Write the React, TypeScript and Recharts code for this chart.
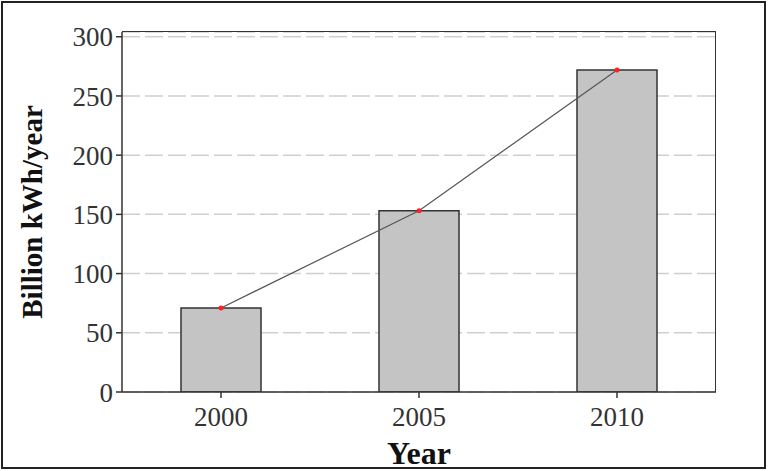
import { ComposedChart, Bar, Line, XAxis, YAxis, CartesianGrid } from "recharts";

// Values
const years = ["2000", "2005", "2010"];
const generation = [71, 153, 272];
const yTicks = [0, 50, 100, 150, 200, 250, 300];

const data = years.map((year, i) => ({ year, value: generation[i] }));

const font = "'Liberation Serif', 'Times New Roman', serif";
const axisColor = "#333";

export default function App() {
  return (
    <div style={{ position: "fixed", left: 0, top: 0, width: 768, height: 471, background: "#fff", overflow: "hidden" }}>
      <div style={{ position: "absolute", left: 0, top: 0 }}>
        <ComposedChart
          width={768}
          height={471}
          data={data}
          margin={{ top: 32, right: 52, left: 0, bottom: 0 }}
          style={{ fontFamily: font }}
        >
          <CartesianGrid vertical={false} stroke="#cfcfcf" strokeDasharray="18 5" strokeWidth={1.5} />
          <XAxis
            dataKey="year"
            height={79}
            axisLine={{ stroke: axisColor, strokeWidth: 1.5 }}
            tickLine={{ stroke: axisColor, strokeWidth: 1.5 }}
            tickSize={6}
            tick={{ fill: "#333", fontSize: 27, fontFamily: font }}
            tickMargin={9}
            label={{
              value: "Year",
              position: "insideBottom",
              offset: 7,
              style: { fontSize: 32, fontWeight: "bold", fill: "#111", fontFamily: font },
            }}
          />
          <YAxis
            width={122}
            domain={[0, 304]}
            ticks={yTicks}
            allowDataOverflow
            axisLine={{ stroke: axisColor, strokeWidth: 1.5 }}
            tickLine={{ stroke: axisColor, strokeWidth: 1.5 }}
            tickSize={6}
            tickMargin={3}
            tick={{ fill: "#333", fontSize: 27, fontFamily: font }}
            label={{
              value: "Billion kWh/year",
              angle: -90,
              position: "insideLeft",
              offset: 32,
              style: { textAnchor: "middle", fontSize: 29, fontWeight: "bold", fill: "#111", fontFamily: font },
            }}
          />
          <Bar
            dataKey="value"
            barSize={80}
            fill="#c4c4c4"
            stroke="#333"
            strokeWidth={1.5}
            isAnimationActive={false}
          />
          <Line
            dataKey="value"
            type="linear"
            stroke="#555"
            strokeWidth={1.2}
            dot={{ r: 2.5, fill: "#ff2020", stroke: "none" }}
            activeDot={false}
            isAnimationActive={false}
          />
        </ComposedChart>
      </div>
      {/* plot frame (top and right edges) */}
      <div
        style={{
          position: "absolute",
          left: 122,
          top: 31,
          width: 593,
          height: 360,
          borderTop: `1.5px solid ${axisColor}`,
          borderRight: `1.5px solid ${axisColor}`,
          pointerEvents: "none",
        }}
      />
      {/* outer figure border */}
      <div
        style={{
          position: "absolute",
          left: 1,
          top: 1,
          width: 761,
          height: 464,
          border: "2px solid #222",
          pointerEvents: "none",
        }}
      />
    </div>
  );
}
